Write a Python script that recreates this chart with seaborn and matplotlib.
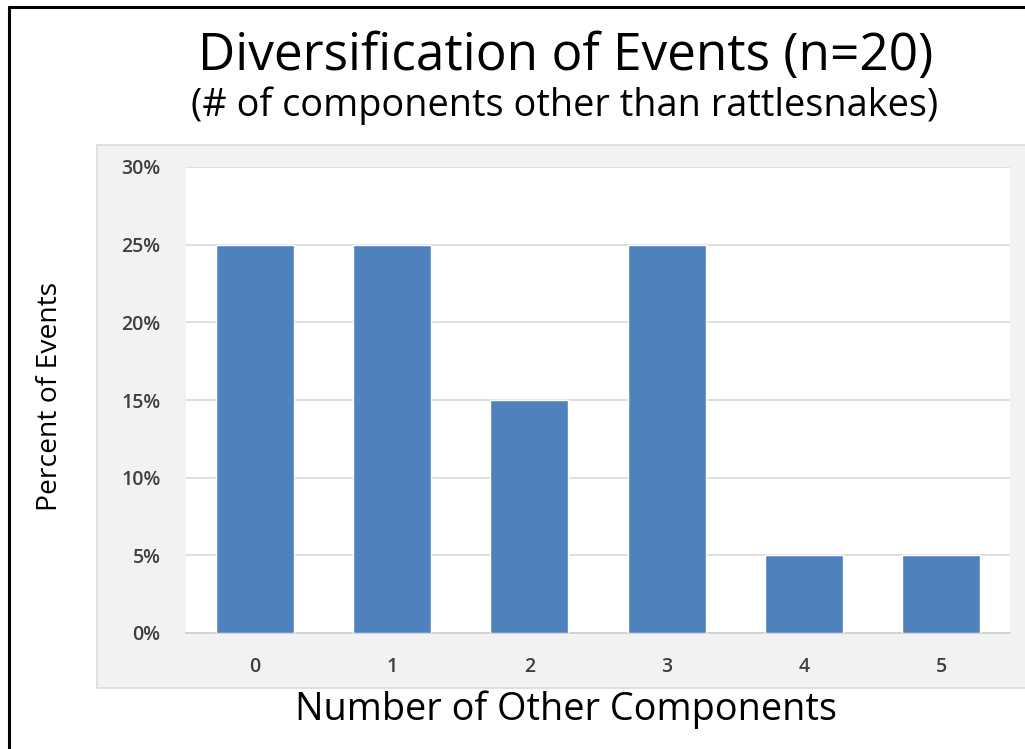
import matplotlib
matplotlib.use("Agg")
import matplotlib.pyplot as plt
from matplotlib.patches import Rectangle
from matplotlib.lines import Line2D
from matplotlib.ticker import PercentFormatter
import seaborn as sns
import pandas as pd

# data
components = ["0", "1", "2", "3", "4", "5"]
percent_events = [25, 25, 15, 25, 5, 5]
y_ticks = [0, 5, 10, 15, 20, 25, 30]

title = "Diversification of Events (n=20)"
subtitle = "(# of components other than rattlesnakes)"
xlabel = "Number of Other Components"
ylabel = "Percent of Events"

df = pd.DataFrame({"components": components, "percent": percent_events})

sns.set_style("white")
plt.rcParams["font.family"] = ["Open Sans", "DejaVu Sans"]

W, H = 1025, 749
fig = plt.figure(figsize=(W / 100, H / 100), dpi=100)
fig.patch.set_facecolor("white")

# gray chart-area panel (runs off the right edge)
fig.patches.append(Rectangle((97 / W, 1 - 688 / H), (W + 20 - 97) / W, (688 - 145) / H,
                             transform=fig.transFigure, facecolor="#f2f2f2",
                             edgecolor="#dcdcdc", linewidth=1.2, zorder=-1))
# black frame lines (left and top)
fig.add_artist(Line2D([9 / W, 9 / W], [0, 1 - 7 / H], transform=fig.transFigure,
                      color="black", linewidth=2.2))
fig.add_artist(Line2D([9 / W, 1], [1 - 7 / H, 1 - 7 / H], transform=fig.transFigure,
                      color="black", linewidth=2.2))

ax = fig.add_axes([186 / W, 1 - 633 / H, (1010 - 186) / W, (633 - 167) / H])
ax.set_facecolor("white")

sns.barplot(data=df, x="components", y="percent", color="#4f81bd", width=0.57,
            saturation=1, ax=ax, zorder=3)

ax.set_xlim(-0.5, 5.5)
ax.set_ylim(0, 30)
ax.set_yticks(y_ticks)
ax.yaxis.set_major_formatter(PercentFormatter(decimals=0))
ax.grid(axis="y", color="#d9d9d9", linewidth=1.2, zorder=0)
ax.set_axisbelow(True)
for s in ["left", "right", "top"]:
    ax.spines[s].set_visible(False)
ax.spines["bottom"].set_color("#d0d0d0")
ax.spines["bottom"].set_linewidth(1.2)
ax.tick_params(axis="both", length=0, labelsize=14, labelcolor="#404040")
ax.tick_params(axis="y", pad=18.5)
ax.tick_params(axis="x", pad=17)
for lab in ax.get_xticklabels() + ax.get_yticklabels():
    lab.set_fontweight("semibold")

ax.set_xlabel("")
ax.set_ylabel("")

fig.text(566 / W, 1 - 57 / H, title, ha="center", va="center", fontsize=37, color="black")
fig.text(565 / W, 1 - 106 / H, subtitle, ha="center", va="center", fontsize=27.3, color="black")
fig.text(566 / W, 1 - 710 / H, xlabel, ha="center", va="center", fontsize=27.3, color="black")
fig.text(50 / W, 1 - 396 / H, ylabel, ha="center", va="center", rotation=90,
         fontsize=20.3, color="black")

fig.savefig("out.png", dpi=100)
